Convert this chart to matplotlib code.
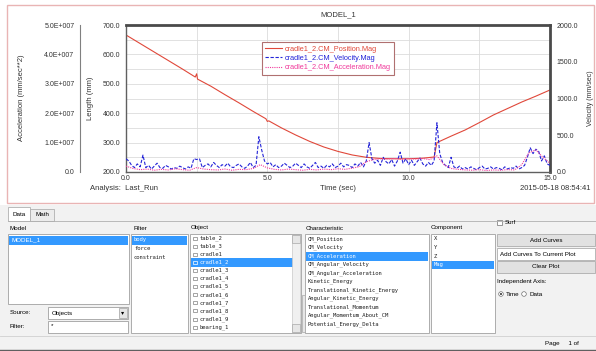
import matplotlib
matplotlib.use("Agg")
import matplotlib.pyplot as plt
import numpy as np
from matplotlib.patches import Rectangle, Circle
from matplotlib.ticker import FixedLocator, FixedFormatter, MultipleLocator

plt.rcParams['font.family'] = ['Liberation Sans', 'DejaVu Sans']

W, H = 596, 351

# ---- values ----
pos_time = [0, 0.5, 1, 1.5, 2, 2.45, 2.5, 2.53, 3, 3.5, 4, 4.5, 4.95, 5.0, 5.05,
            5.5, 6, 6.5, 7, 7.5, 8, 8.5, 9, 9.5, 10, 10.5, 10.9, 11.0, 11.5,
            12, 12.5, 13, 13.5, 14, 14.5, 15]
pos_length = [666, 637, 608, 579, 550, 523, 534, 516, 492, 463, 435, 406, 381, 372, 374,
              350, 326, 304, 285, 270, 258, 250, 246, 245, 245, 247, 251, 300, 322,
              343, 368, 394, 416, 438, 458, 479]

# velocity magnitude, one value every 0.1 s
vel_mag = [180, 150, 90, 60, 110, 70, 230, 60, 90, 40,
           80, 120, 60, 50, 90, 70, 40, 60, 50, 80,
           60, 40, 70, 50, 180, 170, 180, 60, 90, 110,
           70, 130, 90, 60, 100, 80, 120, 70, 60, 90,
           110, 70, 50, 80, 130, 60, 90, 480, 300, 150,
           110, 130, 70, 100, 60, 80, 120, 90, 60, 80,
           120, 90, 60, 110, 70, 50, 90, 130, 60, 80,
           50, 90, 70, 110, 60, 80, 120, 70, 100, 90,
           60, 110, 80, 130, 70, 150, 400, 180, 120, 160,
           90, 200, 140, 110, 170, 80, 150, 270, 120, 180,
           100, 160, 90, 140, 190, 110, 80, 130, 90, 150,
           670, 250, 130, 90, 60, 200, 70, 50, 80, 40,
           60, 40, 70, 50, 30, 60, 80, 40, 50, 70,
           40, 60, 50, 30, 70, 40, 60, 50, 80, 40,
           60, 90, 200, 330, 250, 310, 280, 150, 220, 110,
           90]

# acceleration magnitude (x 1e6), one value every 0.25 s
acc_mag = [2.0, 1.2, 0.8, 1.0, 0.6, 0.9, 0.7, 1.1, 0.8, 0.6, 1.5, 1.0,
           0.8, 0.7, 1.0, 0.6, 0.9, 0.8, 1.2, 2.5, 1.4, 0.9, 0.7, 1.0,
           0.8, 0.6, 0.9, 0.7, 1.0, 0.8, 1.1, 0.9, 1.3, 1.8, 3.5, 4.2,
           4.5, 4.4, 4.6, 4.3, 4.5, 4.4, 4.6, 4.2, 5.5, 2.5, 1.2, 0.9,
           0.7, 0.6, 0.8, 0.5, 0.7, 0.6, 0.8, 0.7, 2.5, 6.5, 7.5, 5.0,
           3.0]

time_ticks = [0.0, 5.0, 10.0, 15.0]
time_labels = ["0.0", "5.0", "10.0", "15.0"]
length_ticks = [200, 300, 400, 500, 600, 700]
length_labels = ["200.0", "300.0", "400.0", "500.0", "600.0", "700.0"]
acc_ticks = [0, 1e7, 2e7, 3e7, 4e7, 5e7]
acc_labels = ["0.0", "1.0E+007", "2.0E+007", "3.0E+007", "4.0E+007", "5.0E+007"]
vel_ticks = [0, 500, 1000, 1500, 2000]
vel_labels = ["0.0", "500.0", "1000.0", "1500.0", "2000.0"]

curve_names = ["cradle1_2.CM_Position.Mag", "cradle1_2.CM_Velocity.Mag",
               "cradle1_2.CM_Acceleration.Mag"]

model_items = ["MODEL_1"]
filter_items = ["body", "force", "constraint"]
object_items = ["table_2", "table_3", "cradle1", "cradle1_2", "cradle1_3", "cradle1_4",
                "cradle1_5", "cradle1_6", "cradle1_7", "cradle1_8", "cradle1_9", "bearing_1"]
char_items = ["CM_Position", "CM_Velocity", "CM_Acceleration", "CM_Angular_Velocity",
              "CM_Angular_Acceleration", "Kinetic_Energy", "Translational_Kinetic_Energy",
              "Angular_Kinetic_Energy", "Translational_Momentum",
              "Angular_Momentum_About_CM", "Potential_Energy_Delta"]
comp_items = ["X", "Y", "Z", "Mag"]

C_POS = "#e0483a"
C_VEL = "#2424d8"
C_ACC = "#f03c9c"
SEL = "#3399ff"


def frac(x0, y0, x1, y1):
    return [x0 / W, 1 - y1 / H, (x1 - x0) / W, (y1 - y0) / H]


fig = plt.figure(figsize=(W / 100, H / 100), dpi=100)
fig.patch.set_facecolor("white")

# ---- window chrome drawn in pixel coordinates ----
gui = fig.add_axes([0, 0, 1, 1], zorder=0)
gui.set_xlim(0, W)
gui.set_ylim(H, 0)
gui.axis("off")

gui.add_patch(Rectangle((7, 5), 587, 198, fc="white", ec="#e9b4b4", lw=1))
gui.add_patch(Rectangle((0, 205), W, H - 205, fc="#f2f2f2", ec="none"))

# tabs
gui.add_patch(Rectangle((8, 207), 22, 14, fc="white", ec="#b0b0b0", lw=0.6))
gui.add_patch(Rectangle((30, 209), 24, 12, fc="#ececec", ec="#b0b0b0", lw=0.6))
gui.plot([8, W], [221, 221], color="#b0b0b0", lw=0.6)
gui.text(19, 215, "Data", fontsize=4.5, ha="center", va="center")
gui.text(42, 215, "Math", fontsize=4.5, ha="center", va="center")

hdr_y = 228
for x, s in [(10, "Model"), (133, "Filter"), (191, "Object"), (306, "Characteristic"),
             (431, "Component")]:
    gui.text(x, hdr_y, s, fontsize=4.5, va="center")

mono = ["DejaVu Sans Mono"]


def listbox(x0, y0, x1, y1, items, sel, first_y, step, icon=False, mono_font=False):
    gui.add_patch(Rectangle((x0, y0), x1 - x0, y1 - y0, fc="white", ec="#a0a0a0", lw=0.6))
    for i, s in enumerate(items):
        y = first_y + i * step
        tx = x0 + 3
        if i == sel:
            gui.add_patch(Rectangle((x0 + 1, y - 4), x1 - x0 - 2, 8.5, fc=SEL, ec="none"))
        if icon:
            gui.add_patch(Rectangle((x0 + 3, y - 1.5), 4, 3, fc="none",
                                    ec="#808080" if i != sel else "white", lw=0.5))
            tx = x0 + 10
        gui.text(tx, y, s, fontsize=4 if mono_font else 4.5, va="center",
                 color="white" if i == sel else "#202020",
                 family=mono if mono_font else None)


listbox(8, 234, 129, 304, model_items, 0, 240, 8.6)
listbox(131, 234, 188, 333, filter_items, 0, 240, 8.6, mono_font=True)
listbox(190, 234, 301, 333, object_items, 3, 238, 8.1, icon=True, mono_font=True)
listbox(305, 234, 429, 333, char_items, 2, 239, 8.5, mono_font=True)
listbox(431, 234, 495, 333, comp_items, 3, 239, 8.6, mono_font=True)

# scrollbars
gui.add_patch(Rectangle((292, 235), 8, 97, fc="#f0f0f0", ec="#c8c8c8", lw=0.5))
gui.add_patch(Rectangle((292, 235), 8, 8, fc="#e6e6e6", ec="#a8a8a8", lw=0.5))
gui.add_patch(Rectangle((292, 324), 8, 8, fc="#e6e6e6", ec="#a8a8a8", lw=0.5))
gui.add_patch(Rectangle((302, 295), 3, 37, fc="#e6e6e6", ec="#a8a8a8", lw=0.5))

# source / filter controls
gui.text(10, 313, "Source:", fontsize=4.5, va="center")
gui.add_patch(Rectangle((48, 307), 80, 12, fc="white", ec="#a0a0a0", lw=0.6))
gui.text(52, 313, "Objects", fontsize=4.5, va="center")
gui.add_patch(Rectangle((119, 308), 8, 10, fc="#e6e6e6", ec="#a0a0a0", lw=0.5))
gui.text(123, 313, "\u25be", fontsize=4.5, ha="center", va="center")
gui.text(10, 327, "Filter:", fontsize=4.5, va="center")
gui.add_patch(Rectangle((48, 321), 80, 12, fc="white", ec="#a0a0a0", lw=0.6))
gui.text(51, 326, "*", fontsize=4.5, va="center")

# right side controls
gui.add_patch(Rectangle((497, 220), 5, 5, fc="white", ec="#707070", lw=0.5))
gui.text(505, 223, "Surf", fontsize=4.5, va="center")
gui.add_patch(Rectangle((497, 234), 98, 12, fc="#e1e1e1", ec="#adadad", lw=0.6))
gui.text(546, 240, "Add Curves", fontsize=4.5, ha="center", va="center")
gui.add_patch(Rectangle((497, 248), 98, 12, fc="white", ec="#adadad", lw=0.6))
gui.text(500, 254, "Add Curves To Current Plot", fontsize=4.5, va="center")
gui.add_patch(Rectangle((497, 261), 98, 12, fc="#e1e1e1", ec="#adadad", lw=0.6))
gui.text(546, 267, "Clear Plot", fontsize=4.5, ha="center", va="center")
gui.text(497, 281, "Independent Axis:", fontsize=4.5, va="center")
gui.add_patch(Circle((501, 294), 2.3, fc="white", ec="#707070", lw=0.5))
gui.add_patch(Circle((501, 294), 1.0, fc="#303030", ec="none"))
gui.text(506, 294, "Time", fontsize=4.5, va="center")
gui.add_patch(Circle((524, 294), 2.3, fc="white", ec="#707070", lw=0.5))
gui.text(529, 294, "Data", fontsize=4.5, va="center")

gui.plot([0, W], [336, 336], color="#d0d0d0", lw=0.6)
gui.text(545, 344, "Page     1 of", fontsize=4.5, va="center")
gui.plot([0, W], [350, 350], color="#606060", lw=1)

# ---- the plot ----
ax = fig.add_axes(frac(126, 25, 550, 172), zorder=2)
t_vel = np.linspace(0, 15, len(vel_mag))
t_acc = np.linspace(0, 15, len(acc_mag))

ax.set_xlim(0, 15)
ax.set_ylim(200, 700)
ax.xaxis.set_minor_locator(MultipleLocator(2.5))
ax.yaxis.set_minor_locator(MultipleLocator(50))
ax.grid(True, which="both", color="#dcdcdc", lw=0.6)
ax.set_axisbelow(True)
ax.set_xticks(time_ticks)
ax.set_xticklabels(time_labels)
ax.set_yticks(length_ticks)
ax.set_yticklabels(length_labels)
ax.tick_params(which="both", length=0, labelsize=5, pad=4, colors="#333333")
ax.tick_params(axis="x", pad=2)
for side in ["left", "bottom"]:
    ax.spines[side].set_color("#606060")
    ax.spines[side].set_linewidth(1)
for side in ["top", "right"]:
    ax.spines[side].set_color("#4a4a4a")
    ax.spines[side].set_linewidth(2)
l_pos, = ax.plot(pos_time, pos_length, color=C_POS, lw=0.8)

ax_vel = ax.twinx()
ax_vel.set_ylim(0, 2000)
ax_vel.yaxis.set_major_locator(FixedLocator(vel_ticks))
ax_vel.yaxis.set_major_formatter(FixedFormatter(vel_labels))
ax_vel.tick_params(length=0, labelsize=5, pad=5, colors="#333333")
for s in ax_vel.spines.values():
    s.set_visible(False)
l_vel, = ax_vel.plot(t_vel, vel_mag, color=C_VEL, lw=0.8, ls=(0, (3, 1.5)))

ax_acc = ax.twinx()
ax_acc.set_ylim(0, 5e7)
for s in ax_acc.spines.values():
    s.set_visible(False)
ax_acc.spines["left"].set_visible(True)
ax_acc.spines["left"].set_position(("axes", -46 / 424))
ax_acc.spines["left"].set_color("#808080")
ax_acc.spines["left"].set_linewidth(0.8)
ax_acc.yaxis.set_ticks_position("left")
ax_acc.yaxis.set_major_locator(FixedLocator(acc_ticks))
ax_acc.yaxis.set_major_formatter(FixedFormatter(acc_labels))
ax_acc.tick_params(length=0, labelsize=5, pad=4, colors="#333333")
l_acc, = ax_acc.plot(t_acc, np.array(acc_mag) * 1e6, color=C_ACC, lw=0.8, ls=(0, (1, 1)))

leg = ax_acc.legend([l_pos, l_vel, l_acc], curve_names, loc="upper left",
                    bbox_to_anchor=((258 - 126) / 424, 1 - 13 / 147),
                    fontsize=5.3, frameon=True, fancybox=False, borderpad=0.5,
                    handlelength=2.2, handletextpad=0.4, labelspacing=0.3,
                    edgecolor="#b07070", framealpha=1)
leg.get_frame().set_linewidth(0.8)
for txt, c in zip(leg.get_texts(), [C_POS, C_VEL, C_ACC]):
    txt.set_color(c)

# axis titles and captions
fig.text(338 / W, 1 - 15 / H, "MODEL_1", fontsize=5.5, ha="center", va="center", color="#333333")
fig.text(22 / W, 1 - 98 / H, "Acceleration (mm/sec**2)", fontsize=5.5, rotation=90,
         ha="center", va="center", color="#333333")
fig.text(90 / W, 1 - 98 / H, "Length (mm)", fontsize=5.5, rotation=90,
         ha="center", va="center", color="#333333")
fig.text(590 / W, 1 - 98 / H, "Velocity (mm/sec)", fontsize=5, rotation=90,
         ha="center", va="center", color="#333333")
fig.text(90 / W, 1 - 189 / H, "Analysis:  Last_Run", fontsize=5.5, va="center", color="#333333")
fig.text(338 / W, 1 - 189 / H, "Time (sec)", fontsize=5.5, ha="center", va="center", color="#333333")
fig.text(590 / W, 1 - 189 / H, "2015-05-18 08:54:41", fontsize=5.5, ha="right", va="center",
         color="#333333")

fig.savefig("out.png", dpi=100)
